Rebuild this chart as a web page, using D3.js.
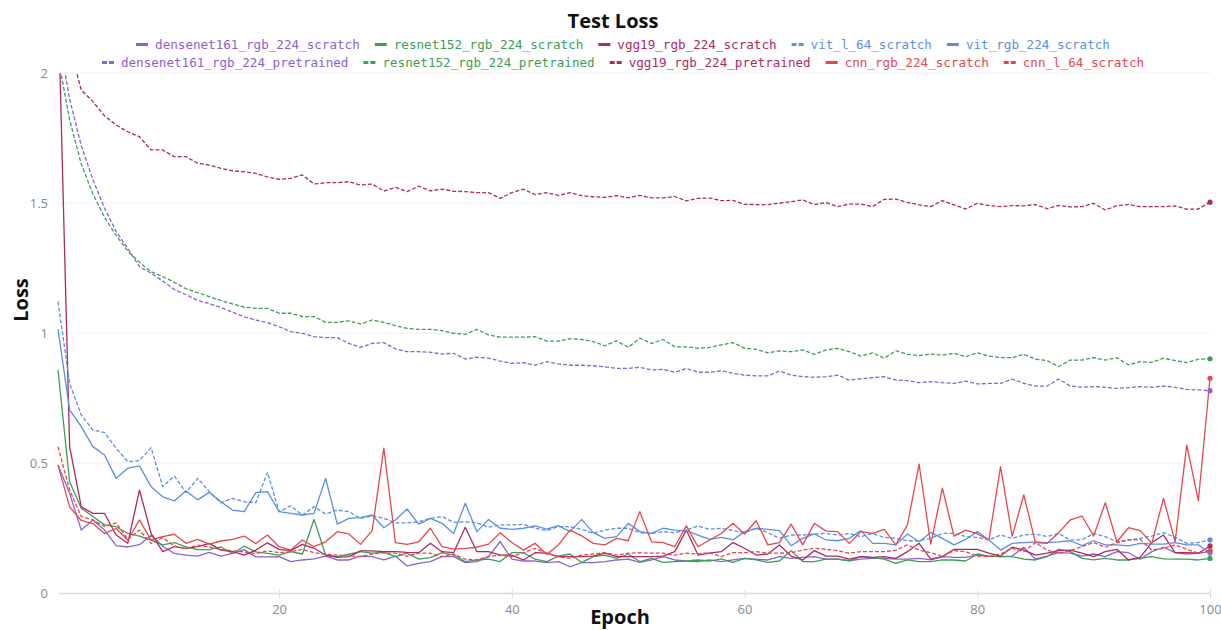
<!DOCTYPE html>
<html>
<head>
<meta charset="utf-8">
<script src="https://cdn.jsdelivr.net/npm/d3@7"></script>
<style>
  body { margin: 0; background: #fff; }
  svg { display: block; }
</style>
</head>
<body>
<svg id="chart" width="1221" height="630"></svg>
<script>
// ---- data ----
const epochs = d3.range(1, 101);
const yTicks = [0, 0.5, 1, 1.5, 2];
const xTicks = [20, 40, 60, 80, 100];

const densenetScratch = [
  0.492, 0.383, 0.242, 0.281, 0.242, 0.182, 0.177, 0.186, 0.222, 0.180,
  0.152, 0.146, 0.142, 0.156, 0.142, 0.152, 0.167, 0.139, 0.139, 0.140,
  0.121, 0.127, 0.131, 0.142, 0.127, 0.127, 0.142, 0.140, 0.127, 0.142,
  0.104, 0.114, 0.121, 0.140, 0.140, 0.117, 0.121, 0.140, 0.198, 0.130,
  0.123, 0.123, 0.117, 0.121, 0.101, 0.117, 0.117, 0.121, 0.127, 0.130,
  0.118, 0.127, 0.140, 0.127, 0.123, 0.121, 0.127, 0.121, 0.127, 0.133,
  0.130, 0.127, 0.140, 0.133, 0.137, 0.140, 0.130, 0.130, 0.124, 0.130,
  0.133, 0.133, 0.130, 0.130, 0.133, 0.127, 0.140, 0.137, 0.137, 0.146,
  0.142, 0.140, 0.142, 0.176, 0.130, 0.142, 0.155, 0.153, 0.142, 0.150,
  0.140, 0.159, 0.155, 0.130, 0.159, 0.176, 0.155, 0.150, 0.153, 0.159
];
const resnetScratch = [
  0.858, 0.428, 0.326, 0.294, 0.262, 0.255, 0.229, 0.219, 0.203, 0.185,
  0.194, 0.177, 0.167, 0.167, 0.177, 0.152, 0.180, 0.158, 0.152, 0.146,
  0.159, 0.150, 0.283, 0.146, 0.140, 0.149, 0.159, 0.153, 0.156, 0.140,
  0.153, 0.130, 0.136, 0.155, 0.146, 0.121, 0.127, 0.130, 0.121, 0.155,
  0.155, 0.130, 0.121, 0.142, 0.150, 0.117, 0.140, 0.146, 0.133, 0.149,
  0.121, 0.133, 0.118, 0.121, 0.123, 0.127, 0.123, 0.131, 0.118, 0.133,
  0.127, 0.118, 0.123, 0.163, 0.121, 0.121, 0.130, 0.130, 0.124, 0.140,
  0.136, 0.130, 0.114, 0.127, 0.121, 0.121, 0.127, 0.127, 0.123, 0.150,
  0.142, 0.140, 0.140, 0.130, 0.127, 0.140, 0.168, 0.159, 0.133, 0.127,
  0.133, 0.127, 0.127, 0.133, 0.140, 0.131, 0.130, 0.130, 0.127, 0.133
];
const vgg19Scratch = [
  2.300, 0.563, 0.331, 0.306, 0.306, 0.223, 0.191, 0.396, 0.229, 0.159,
  0.178, 0.172, 0.178, 0.191, 0.165, 0.159, 0.146, 0.165, 0.193, 0.168,
  0.163, 0.187, 0.172, 0.146, 0.137, 0.140, 0.162, 0.162, 0.159, 0.159,
  0.156, 0.155, 0.191, 0.159, 0.155, 0.253, 0.159, 0.159, 0.146, 0.146,
  0.127, 0.155, 0.153, 0.140, 0.140, 0.140, 0.142, 0.153, 0.140, 0.140,
  0.140, 0.140, 0.142, 0.159, 0.242, 0.146, 0.153, 0.159, 0.194, 0.172,
  0.146, 0.150, 0.185, 0.142, 0.127, 0.163, 0.142, 0.142, 0.130, 0.140,
  0.137, 0.140, 0.133, 0.159, 0.191, 0.130, 0.140, 0.168, 0.168, 0.168,
  0.153, 0.142, 0.176, 0.165, 0.146, 0.153, 0.163, 0.165, 0.153, 0.140,
  0.159, 0.168, 0.127, 0.137, 0.194, 0.223, 0.155, 0.155, 0.153, 0.181
];
const vitL64Scratch = [
  1.121, 0.806, 0.685, 0.627, 0.617, 0.556, 0.505, 0.509, 0.559, 0.409,
  0.450, 0.386, 0.441, 0.390, 0.347, 0.364, 0.351, 0.347, 0.464, 0.313,
  0.335, 0.300, 0.332, 0.304, 0.319, 0.313, 0.287, 0.297, 0.287, 0.270,
  0.270, 0.274, 0.287, 0.294, 0.272, 0.274, 0.270, 0.253, 0.262, 0.262,
  0.264, 0.249, 0.240, 0.255, 0.255, 0.245, 0.229, 0.242, 0.249, 0.249,
  0.232, 0.229, 0.236, 0.232, 0.242, 0.258, 0.245, 0.249, 0.240, 0.232,
  0.249, 0.232, 0.210, 0.223, 0.223, 0.227, 0.229, 0.223, 0.229, 0.217,
  0.229, 0.214, 0.210, 0.201, 0.201, 0.210, 0.229, 0.229, 0.217, 0.214,
  0.204, 0.223, 0.210, 0.223, 0.227, 0.217, 0.229, 0.204, 0.204, 0.229,
  0.217, 0.197, 0.204, 0.210, 0.219, 0.232, 0.214, 0.191, 0.194, 0.204
];
const vitRgbScratch = [
  1.014, 0.704, 0.640, 0.563, 0.531, 0.441, 0.480, 0.489, 0.409, 0.370,
  0.354, 0.393, 0.358, 0.387, 0.351, 0.319, 0.313, 0.386, 0.390, 0.313,
  0.306, 0.300, 0.306, 0.441, 0.265, 0.287, 0.290, 0.300, 0.251, 0.281,
  0.323, 0.265, 0.287, 0.268, 0.229, 0.345, 0.236, 0.283, 0.249, 0.245,
  0.249, 0.258, 0.246, 0.259, 0.236, 0.283, 0.232, 0.210, 0.217, 0.268,
  0.236, 0.229, 0.249, 0.242, 0.240, 0.223, 0.206, 0.214, 0.204, 0.236,
  0.249, 0.245, 0.240, 0.182, 0.210, 0.227, 0.204, 0.201, 0.210, 0.240,
  0.191, 0.191, 0.185, 0.227, 0.197, 0.233, 0.210, 0.185, 0.206, 0.236,
  0.204, 0.165, 0.191, 0.194, 0.197, 0.194, 0.197, 0.201, 0.182, 0.201,
  0.185, 0.185, 0.181, 0.191, 0.188, 0.188, 0.194, 0.185, 0.185, 0.153
];
const densenetPretrained = [
  2.150, 1.900, 1.720, 1.590, 1.480, 1.390, 1.325, 1.255, 1.230, 1.200,
  1.167, 1.148, 1.125, 1.113, 1.098, 1.080, 1.062, 1.050, 1.040, 1.024,
  1.005, 0.999, 0.986, 0.982, 0.982, 0.960, 0.945, 0.960, 0.963, 0.939,
  0.928, 0.928, 0.926, 0.919, 0.922, 0.900, 0.907, 0.903, 0.892, 0.883,
  0.886, 0.876, 0.890, 0.881, 0.876, 0.876, 0.874, 0.870, 0.864, 0.864,
  0.868, 0.858, 0.860, 0.849, 0.864, 0.849, 0.849, 0.855, 0.845, 0.838,
  0.835, 0.835, 0.854, 0.838, 0.832, 0.830, 0.832, 0.838, 0.819, 0.824,
  0.828, 0.832, 0.819, 0.817, 0.809, 0.813, 0.809, 0.806, 0.815, 0.804,
  0.806, 0.806, 0.823, 0.806, 0.796, 0.796, 0.823, 0.796, 0.791, 0.794,
  0.791, 0.787, 0.790, 0.794, 0.791, 0.796, 0.791, 0.783, 0.781, 0.778
];
const resnetPretrained = [
  2.060, 1.820, 1.650, 1.535, 1.445, 1.375, 1.315, 1.272, 1.236, 1.217,
  1.195, 1.170, 1.155, 1.140, 1.125, 1.112, 1.100, 1.095, 1.095, 1.076,
  1.076, 1.063, 1.063, 1.041, 1.041, 1.047, 1.035, 1.050, 1.041, 1.028,
  1.018, 1.014, 1.014, 1.009, 0.999, 0.995, 1.014, 0.993, 0.984, 0.984,
  0.984, 0.986, 0.969, 0.969, 0.978, 0.975, 0.967, 0.951, 0.970, 0.945,
  0.980, 0.960, 0.975, 0.947, 0.947, 0.941, 0.945, 0.954, 0.963, 0.942,
  0.937, 0.924, 0.931, 0.928, 0.935, 0.918, 0.935, 0.941, 0.928, 0.911,
  0.924, 0.903, 0.932, 0.918, 0.913, 0.919, 0.915, 0.922, 0.909, 0.924,
  0.911, 0.905, 0.905, 0.918, 0.899, 0.894, 0.871, 0.896, 0.896, 0.905,
  0.896, 0.905, 0.877, 0.890, 0.887, 0.903, 0.894, 0.886, 0.899, 0.901
];
const vgg19Pretrained = [
  2.450, 2.100, 1.935, 1.890, 1.835, 1.800, 1.774, 1.755, 1.704, 1.704,
  1.678, 1.678, 1.653, 1.646, 1.633, 1.624, 1.620, 1.614, 1.600, 1.591,
  1.595, 1.608, 1.573, 1.578, 1.578, 1.582, 1.569, 1.573, 1.546, 1.560,
  1.544, 1.565, 1.547, 1.553, 1.545, 1.544, 1.540, 1.540, 1.518, 1.540,
  1.553, 1.532, 1.540, 1.529, 1.540, 1.528, 1.524, 1.522, 1.528, 1.520,
  1.529, 1.520, 1.520, 1.525, 1.508, 1.518, 1.519, 1.509, 1.510, 1.495,
  1.494, 1.494, 1.499, 1.505, 1.512, 1.494, 1.502, 1.486, 1.496, 1.496,
  1.486, 1.514, 1.515, 1.502, 1.493, 1.486, 1.509, 1.493, 1.477, 1.499,
  1.490, 1.486, 1.490, 1.489, 1.494, 1.478, 1.491, 1.485, 1.486, 1.499,
  1.473, 1.490, 1.494, 1.486, 1.486, 1.486, 1.489, 1.476, 1.477, 1.503
];
const cnnRgbScratch = [
  0.492, 0.331, 0.279, 0.267, 0.229, 0.248, 0.203, 0.281, 0.204, 0.217,
  0.226, 0.191, 0.206, 0.188, 0.200, 0.206, 0.219, 0.190, 0.223, 0.178,
  0.165, 0.204, 0.178, 0.197, 0.236, 0.227, 0.187, 0.240, 0.557, 0.194,
  0.187, 0.197, 0.249, 0.178, 0.169, 0.172, 0.176, 0.188, 0.232, 0.194,
  0.165, 0.191, 0.148, 0.185, 0.242, 0.220, 0.191, 0.185, 0.210, 0.201,
  0.313, 0.197, 0.194, 0.178, 0.258, 0.178, 0.204, 0.229, 0.268, 0.227,
  0.278, 0.185, 0.194, 0.265, 0.185, 0.268, 0.238, 0.236, 0.191, 0.236,
  0.229, 0.245, 0.185, 0.262, 0.496, 0.188, 0.403, 0.219, 0.242, 0.227,
  0.204, 0.486, 0.219, 0.377, 0.194, 0.191, 0.232, 0.281, 0.296, 0.219,
  0.347, 0.197, 0.251, 0.240, 0.191, 0.364, 0.197, 0.569, 0.355, 0.826
];
const cnnL64Scratch = [
  0.563, 0.396, 0.294, 0.281, 0.256, 0.270, 0.206, 0.242, 0.190, 0.213,
  0.180, 0.171, 0.184, 0.177, 0.167, 0.162, 0.158, 0.152, 0.162, 0.155,
  0.159, 0.168, 0.155, 0.149, 0.146, 0.142, 0.140, 0.150, 0.155, 0.153,
  0.142, 0.153, 0.153, 0.140, 0.150, 0.130, 0.127, 0.140, 0.146, 0.140,
  0.155, 0.172, 0.153, 0.140, 0.133, 0.146, 0.150, 0.155, 0.146, 0.153,
  0.155, 0.153, 0.153, 0.146, 0.153, 0.150, 0.155, 0.140, 0.155, 0.155,
  0.159, 0.153, 0.153, 0.155, 0.165, 0.172, 0.168, 0.163, 0.153, 0.159,
  0.159, 0.159, 0.165, 0.185, 0.165, 0.155, 0.140, 0.163, 0.159, 0.142,
  0.140, 0.150, 0.172, 0.159, 0.194, 0.165, 0.153, 0.163, 0.178, 0.194,
  0.176, 0.194, 0.204, 0.206, 0.165, 0.172, 0.185, 0.168, 0.153, 0.163
];

// series in legend order (two legend rows)
const seriesNames = [
  "densenet161_rgb_224_scratch", "resnet152_rgb_224_scratch", "vgg19_rgb_224_scratch",
  "vit_l_64_scratch", "vit_rgb_224_scratch",
  "densenet161_rgb_224_pretrained", "resnet152_rgb_224_pretrained", "vgg19_rgb_224_pretrained",
  "cnn_rgb_224_scratch", "cnn_l_64_scratch"
];
const seriesValues = [
  densenetScratch, resnetScratch, vgg19Scratch, vitL64Scratch, vitRgbScratch,
  densenetPretrained, resnetPretrained, vgg19Pretrained, cnnRgbScratch, cnnL64Scratch
];
const seriesColors = [
  "#8c62d1", "#3f9d54", "#ad2a62", "#5b8fe4", "#5b8fe4",
  "#8c62d1", "#3f9d54", "#ad2a62", "#e4484d", "#e4484d"
];
const seriesDashed = [false, false, false, true, false, true, true, true, false, true];
const legendRows = [[0, 1, 2, 3, 4], [5, 6, 7, 8, 9]];

// ---- layout ----
const svg = d3.select("#chart");
const plotLeft = 58, plotRight = 1210, plotTop = 73, plotBottom = 593;

const x = d3.scaleLinear().domain([1, 100]).range([plotLeft, plotRight]);
const y = d3.scaleLinear().domain([0, 2]).range([plotBottom, plotTop]);

const tickFont = "'Open Sans', 'Noto Sans', sans-serif";

// horizontal gridlines
svg.append("g")
  .selectAll("line")
  .data(yTicks.filter(d => d > 0))
  .join("line")
  .attr("x1", plotLeft).attr("x2", plotRight)
  .attr("y1", d => y(d)).attr("y2", d => y(d))
  .attr("stroke", "#f0f0f0").attr("stroke-width", 1.2);

// x axis
const xAxis = svg.append("g")
  .attr("transform", `translate(0,${plotBottom})`)
  .call(d3.axisBottom(x).tickValues(xTicks).tickSizeInner(5).tickSizeOuter(0).tickPadding(7));
xAxis.select(".domain").attr("stroke", "#dcdcdc").attr("stroke-width", 1.5);
xAxis.selectAll(".tick line").attr("stroke", "#dcdcdc").attr("y1", -4);
xAxis.selectAll(".tick text")
  .attr("fill", "#8a8a8a").style("font-family", tickFont).style("font-size", "13px");

// y axis
const yAxis = svg.append("g")
  .attr("transform", `translate(${plotLeft},0)`)
  .call(d3.axisLeft(y).tickValues(yTicks).tickSize(0).tickPadding(10).tickFormat(d => String(d)));
yAxis.select(".domain").remove();
yAxis.selectAll(".tick text")
  .attr("fill", "#8a8a8a").style("font-family", tickFont).style("font-size", "13px");

// clip for lines that leave the visible loss range
svg.append("defs").append("clipPath").attr("id", "plot-clip")
  .append("rect")
  .attr("x", plotLeft - 2).attr("y", plotTop)
  .attr("width", plotRight - plotLeft + 6).attr("height", plotBottom - plotTop + 4);

const line = d3.line()
  .x((d, i) => x(epochs[i]))
  .y(d => y(d));

const linesG = svg.append("g").attr("clip-path", "url(#plot-clip)");
seriesValues.forEach((vals, k) => {
  linesG.append("path")
    .datum(vals)
    .attr("fill", "none")
    .attr("stroke", seriesColors[k])
    .attr("stroke-width", 1.3)
    .attr("stroke-linejoin", "round")
    .attr("stroke-dasharray", seriesDashed[k] ? "4,2" : null)
    .attr("d", line);
});

// final-epoch markers
svg.append("g")
  .selectAll("circle")
  .data(seriesValues.map((vals, k) => ({ v: vals[vals.length - 1], k })))
  .join("circle")
  .attr("cx", x(epochs[epochs.length - 1]))
  .attr("cy", d => y(d.v))
  .attr("r", 2.6)
  .attr("fill", d => seriesColors[d.k]);

// title and axis titles
const titleFont = "'Open Sans', 'Noto Sans', sans-serif";
svg.append("text")
  .attr("x", 613).attr("y", 28)
  .attr("text-anchor", "middle")
  .style("font-family", titleFont).style("font-weight", 700).style("font-size", "20px")
  .attr("fill", "#111")
  .text("Test Loss");

svg.append("text")
  .attr("x", 620).attr("y", 624)
  .attr("text-anchor", "middle")
  .style("font-family", titleFont).style("font-weight", 700).style("font-size", "20px")
  .attr("fill", "#111")
  .text("Epoch");

svg.append("text")
  .attr("transform", "translate(28,300) rotate(-90)")
  .attr("text-anchor", "middle")
  .style("font-family", titleFont).style("font-weight", 700).style("font-size", "20px")
  .attr("fill", "#111")
  .text("Loss");

// legend
const legendFont = "'DejaVu Sans Mono', 'Liberation Mono', monospace";
const legendCenter = 623;
const rowBaselines = [49, 67];
const swatchW = 12, swatchGap = 7, itemGap = 15;

legendRows.forEach((row, r) => {
  const g = svg.append("g");
  const items = row.map(k => {
    const ig = g.append("g");
    const t = ig.append("text")
      .attr("y", rowBaselines[r])
      .style("font-family", legendFont).style("font-size", "12.6px")
      .attr("fill", seriesColors[k])
      .text(seriesNames[k]);
    return { k, ig, t, w: t.node().getComputedTextLength() };
  });
  const total = d3.sum(items, d => swatchW + swatchGap + d.w) + itemGap * (items.length - 1);
  let cx = legendCenter - total / 2;
  items.forEach(it => {
    const sy = rowBaselines[r] - 4.5;
    it.ig.append("line")
      .attr("x1", cx).attr("x2", cx + swatchW).attr("y1", sy).attr("y2", sy)
      .attr("stroke", seriesColors[it.k]).attr("stroke-width", 3)
      .attr("stroke-dasharray", seriesDashed[it.k] ? "5,2" : null);
    it.t.attr("x", cx + swatchW + swatchGap);
    cx += swatchW + swatchGap + it.w + itemGap;
  });
});
</script>
</body>
</html>
